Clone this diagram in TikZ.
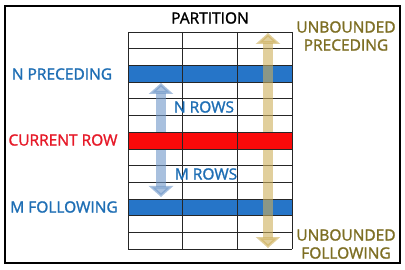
\documentclass[tikz,border=0pt]{standalone}
\usepackage{fontspec}
\setmainfont{Open Sans}
\newfontfamily\lblfont{Open Sans}[FakeBold=1.5]
\usetikzlibrary{arrows.meta}
\definecolor{rowblue}{RGB}{38,117,200}
\definecolor{textblue}{RGB}{30,110,180}
\definecolor{rowred}{RGB}{250,10,10}
\definecolor{textred}{RGB}{230,25,40}
\definecolor{goldtext}{RGB}{125,110,35}
\definecolor{goldarrow}{RGB}{205,175,90}
\definecolor{steelarrow}{RGB}{110,150,200}
\begin{document}
\begin{tikzpicture}[x=1pt, y=-1pt,
        lbl/.style={font=\lblfont\fontsize{15.5}{18}\selectfont, inner sep=0pt},
        gridline/.style={draw=black!85, line width=.6pt},
        fat/.style={line width=10pt, opacity=.6,
          {Triangle[width=24pt,length=11pt]}-{Triangle[width=24pt,length=11pt]}}]
        \useasboundingbox (0,0) rectangle (405,270);
        % Rahmen
        \draw[line width=1.3pt] (5,6) rectangle (400,263);
        % blaue Zeilen
        \foreach \r in {2,10} \fill[rowblue] (128,{32+16.7*\r}) rectangle (292,{32+16.7*(\r+1)});
        % Tabelle
        \foreach \r in {0,...,13} \draw[gridline] (128,{32+16.7*\r}) -- (292,{32+16.7*\r});
        \foreach \x in {128,182.67,237.33,292} \draw[gridline] (\x,32) -- (\x,249.1);
        % Pfeile
        \coordinate (ntop) at (161,83);
        \coordinate (mbot) at (161,197);
        \coordinate (ubtop) at (268,33);
        \coordinate (ubbot) at (268,248);
        \draw[fat, steelarrow] (ntop) -- (mbot);
        \draw[fat, goldarrow] (ubtop) -- (ubbot);
        % aktuelle Zeile
        \fill[rowred] (128,132.2) rectangle (292,148.9);
        \draw[gridline] (128,132.2) rectangle (292,148.9);
        \foreach \x in {182.67,237.33} \draw[gridline] (\x,132.2) -- (\x,148.9);
        % Beschriftung
        \node[lbl] (partition) at (210,18) {PARTITION};
        \node[lbl, textblue] (nprec) at (62,74) {N PRECEDING};
        \node[lbl, textred] (currow) at (63,140) {CURRENT ROW};
        \node[lbl, textblue] (mfol) at (64,207) {M FOLLOWING};
        \node[lbl, textblue] (nrows) at (204,107) {N ROWS};
        \node[lbl, textblue] (mrows) at (206,174) {M ROWS};
        \node[lbl, goldtext, align=center] (ubprec) at (346,36) {UNBOUNDED\\PRECEDING};
        \node[lbl, goldtext, align=center] (ubfol) at (346,244) {UNBOUNDED\\FOLLOWING};
    \end{tikzpicture}
\end{document}
